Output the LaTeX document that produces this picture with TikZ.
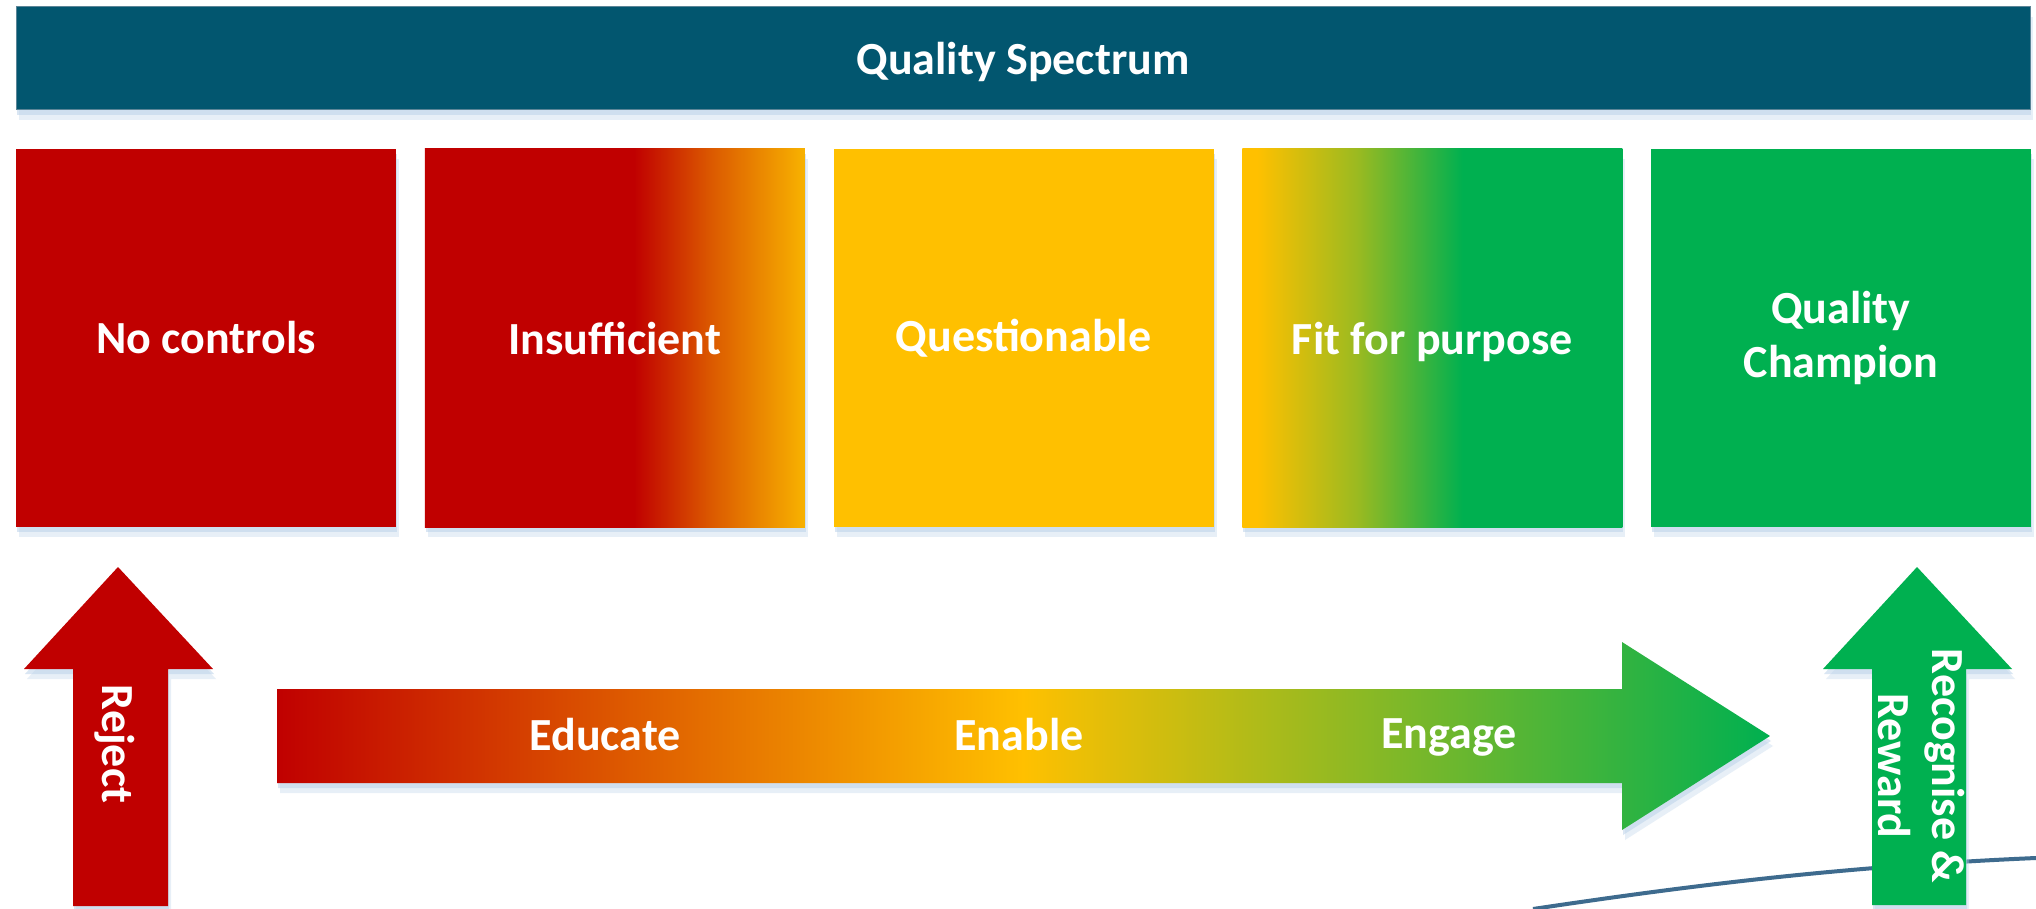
\documentclass[tikz,border=0pt]{standalone}
\usepackage{fontspec}
\setmainfont{Carlito}
\usetikzlibrary{positioning,shadows}

\definecolor{qred}{HTML}{C00000}
\definecolor{qorange}{HTML}{DB5800}
\definecolor{qamber}{HTML}{F8B200}
\definecolor{qyellow}{HTML}{FFC000}
\definecolor{qolive}{HTML}{9CBA20}
\definecolor{qgreen}{HTML}{00B050}
\definecolor{qteal}{HTML}{02566F}
\definecolor{qtealedge}{HTML}{5B8597}
\definecolor{qshadow}{HTML}{BCD3EA}
\definecolor{qline}{HTML}{3E6B8E}

% red box that turns orange on its right side
\pgfdeclarehorizontalshading{insuffshade}{100bp}{color(0bp)=(qred); color(52.5bp)=(qred);
  color(62.5bp)=(qorange); color(75bp)=(qamber); color(100bp)=(qamber)}
% yellow into green
\pgfdeclarehorizontalshading{fitshade}{100bp}{color(0bp)=(qyellow); color(27bp)=(qyellow);
  color(40bp)=(qolive); color(54bp)=(qgreen); color(100bp)=(qgreen)}

\begin{document}
\begin{tikzpicture}
  [x=0.5pt, y=-0.5pt,
  every node/.style={font=\fontsize{23}{27}\selectfont\bfseries, text=white},
  lift/.style={general shadow={fill=qshadow, opacity=.35, shadow xshift=1.5pt, shadow yshift=-5pt},
    general shadow={fill=qshadow, opacity=.55, shadow xshift=.5pt, shadow yshift=-2.5pt}},
  banner/.style={rectangle, fill=qteal, draw=qtealedge, line width=.5pt, minimum width=1007pt,
    minimum height=51.5pt, inner sep=0pt, text depth=0pt, lift},
  level/.style={rectangle, minimum width=190pt, minimum height=189pt, inner sep=0pt,
    outer sep=0pt, align=center, lift},
  tag/.style={inner sep=0pt, text depth=0pt}]

  \useasboundingbox (0,0) rectangle (2036,909);
  \fill [white] (0,0) rectangle (2036,909);

  \node [banner] (spectrum) at (1023,58.5) {Quality Spectrum};

  \node [level, fill=qred] (none) at (206,338) {No controls};
  \node [level, shade, shading=insuffshade, right=14.375pt of none] (insuff) {Insufficient};
  \node [level, fill=qyellow, right=14.375pt of insuff] (quest) {Questionable};
  \node [level, shade, shading=fitshade, text depth=0pt, right=14.375pt of quest] (fit) {Fit for purpose};
  \node [level, fill=qgreen, right=14.375pt of fit] (champ) {Quality\\Champion};

  % block arrows
  \fill [qred, lift] (73,906) -- (73,669) -- (24,669) -- (118,567) -- (213,669)
    -- (168,669) -- (168,906) -- cycle;
  \shade [left color=qred, right color=qgreen, middle color=qyellow, lift]
    (277,689) -- (1622,689) -- (1622,642) -- (1770,736) -- (1622,830) -- (1622,783) -- (277,783) -- cycle;
  \draw [qline, line width=2pt] (1533,909) .. controls (1700,884) and (1850,866) .. (2036,858);
  \fill [qgreen, lift] (1872,905) -- (1872,669) -- (1823,669) -- (1917,567) -- (2012,669)
    -- (1966,669) -- (1966,905) -- cycle;

  \node [tag, rotate=-90] (reject) at (119,744) {Reject};
  \node [tag] (educate) at (605,734) {Educate};
  \node [tag] (enable) at (1019,734) {Enable};
  \node [tag] (engage) at (1449,734) {Engage};
  \node [rotate=-90, align=center, inner sep=0pt] (reward) at (1921,766) {Recognise \&\\Reward};
\end{tikzpicture}
\end{document}
